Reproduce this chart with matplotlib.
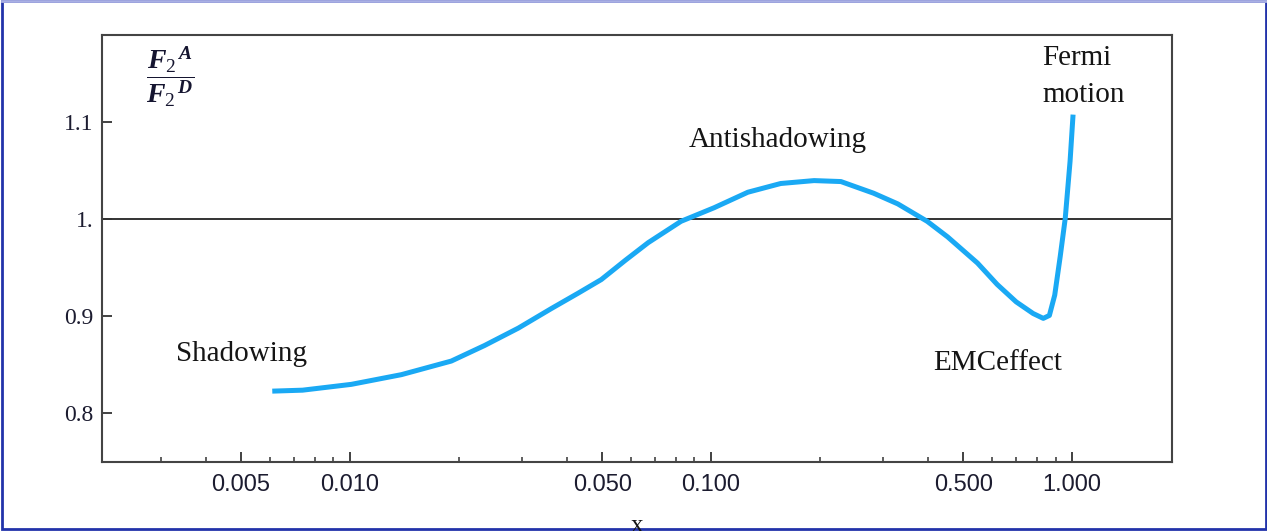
import matplotlib
matplotlib.use("Agg")
from matplotlib import pyplot as plt
from matplotlib.ticker import FixedLocator, FixedFormatter, LogLocator, NullFormatter
from matplotlib.patches import Rectangle
from matplotlib.lines import Line2D

# ratio F2(A)/F2(D) versus x
x_vals = [0.0061, 0.0074, 0.0101, 0.0139, 0.0191, 0.0236, 0.0293, 0.0361, 0.0429,
          0.0497, 0.0580, 0.0670, 0.0826, 0.102, 0.1265, 0.156, 0.193, 0.229,
          0.282, 0.329, 0.397, 0.452, 0.547, 0.620, 0.700, 0.780, 0.832, 0.865,
          0.895, 0.927, 0.957, 0.987, 1.006]
ratio = [0.823, 0.824, 0.830, 0.840, 0.854, 0.870, 0.888, 0.908, 0.924,
         0.938, 0.958, 0.976, 0.998, 1.012, 1.028, 1.037, 1.040, 1.039,
         1.027, 1.016, 0.998, 0.982, 0.955, 0.933, 0.915, 0.903, 0.898, 0.901,
         0.922, 0.962, 1.001, 1.060, 1.108]

x_ticks = [0.005, 0.01, 0.05, 0.1, 0.5, 1.0]
x_tick_labels = ["0.005", "0.010", "0.050", "0.100", "0.500", "1.000"]
y_ticks = [0.8, 0.9, 1.0, 1.1]
y_tick_labels = ["0.8", "0.9", "1.", "1.1"]

# region names: (text, x, y, horizontal alignment)
regions = [
    ("Shadowing", 0.005, 0.861, "center"),
    ("Antishadowing", 0.153, 1.082, "center"),
    ("EMCeffect", 0.621, 0.852, "center"),
    ("Fermi\nmotion", 0.826, 1.147, "left"),
]

plt.rcParams["mathtext.fontset"] = "custom"
plt.rcParams["mathtext.rm"] = "Liberation Serif"
plt.rcParams["mathtext.it"] = "Liberation Serif:italic:bold"
plt.rcParams["mathtext.bf"] = "Liberation Serif:bold"

fig = plt.figure(figsize=(12.67, 5.31), dpi=100)
ax = fig.add_axes([0.0805, 0.130, 0.8445, 0.804])

ax.plot(x_vals, ratio, color="#1aa9f4", lw=3.6, solid_capstyle="butt",
        solid_joinstyle="round", zorder=3)
ax.axhline(1.0, color="#333333", lw=1.4, zorder=2)

ax.set_xscale("log")
ax.set_xlim(0.00206, 1.89)
ax.set_ylim(0.75, 1.19)

ax.xaxis.set_major_locator(FixedLocator(x_ticks))
ax.xaxis.set_major_formatter(FixedFormatter(x_tick_labels))
ax.xaxis.set_minor_locator(LogLocator(base=10, subs=range(2, 10)))
ax.xaxis.set_minor_formatter(NullFormatter())
ax.yaxis.set_major_locator(FixedLocator(y_ticks))
ax.yaxis.set_major_formatter(FixedFormatter(y_tick_labels))

ax.tick_params(axis="x", which="major", direction="in", length=7.5, width=1.3,
               color="#333333", pad=9, labelsize=17, labelcolor="#1c1c30")
ax.tick_params(axis="x", which="minor", direction="in", length=3.5, width=1.1,
               color="#333333")
ax.tick_params(axis="y", which="major", direction="in", length=7.5, width=1.3,
               color="#333333", pad=6, labelsize=17, labelcolor="#1c1c30")
for lab in ax.get_xticklabels():
    lab.set_family("Liberation Sans")
for lab in ax.get_yticklabels():
    lab.set_family("Liberation Serif")

for s in ax.spines.values():
    s.set_color("#444444")
    s.set_linewidth(1.5)

for txt, xx, yy, ha in regions:
    ax.text(xx, yy, txt, ha=ha, va="center", multialignment="left",
            family="Liberation Serif", fontsize=21, color="#151515", linespacing=1.55)

ax.text(0.00318, 1.147, r"$\dfrac{F_2{}^{\,A}}{F_2{}^{\,D}}$", ha="center", va="center",
        fontsize=20, color="#151530")

# axis name, mostly below the bottom edge
fig.text(637 / 1267, 0.030, "x", ha="center", va="top", family="Liberation Serif",
         fontsize=18, color="#151515")

# outer frame
fig.patches.append(Rectangle((0.0015, 0.003), 0.9975, 0.995, transform=fig.transFigure,
                             fill=False, edgecolor="#2233aa", lw=2.0))
fig.lines.append(Line2D([0.0015, 0.999], [0.998, 0.998], transform=fig.transFigure,
                        color="#aab0e4", lw=2.0))

fig.savefig("out.png", dpi=100, facecolor="white")
